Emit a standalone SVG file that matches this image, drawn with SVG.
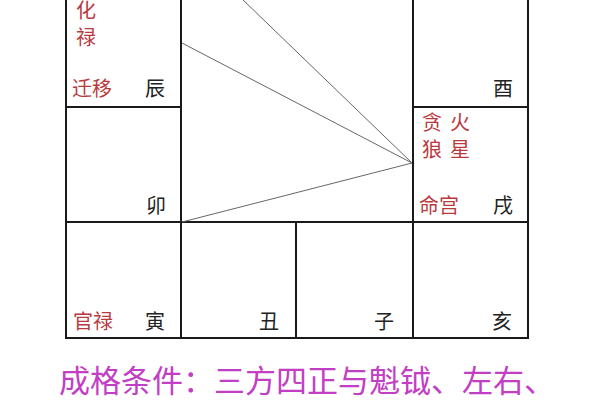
<svg xmlns="http://www.w3.org/2000/svg" width="600" height="400" viewBox="0 0 600 400">
<style>
.grid{stroke:#1a1a1a;stroke-width:2;fill:none}
.conn{stroke:#666;stroke-width:1;fill:none}
text{font-family:"Noto Sans CJK SC","Noto Sans",sans-serif;font-size:20px}
.blk{fill:#222}
.red{fill:#b83a3e}
.cap{fill:#c23ec4;font-size:31px}
</style>
<rect width="600" height="400" fill="#fff"/>
<g id="grid" class="grid">
<line x1="66" y1="0" x2="66" y2="338"/>
<line x1="181" y1="0" x2="181" y2="338"/>
<line x1="413" y1="0" x2="413" y2="338"/>
<line x1="528" y1="0" x2="528" y2="338"/>
<line x1="296" y1="222" x2="296" y2="338"/>
<line x1="65" y1="107" x2="182" y2="107"/>
<line x1="412" y1="107" x2="529" y2="107"/>
<line x1="65" y1="222" x2="529" y2="222"/>
<line x1="65" y1="338" x2="529" y2="338"/>
</g>
<g id="connectors" class="conn">
<line x1="412" y1="163" x2="182" y2="43"/>
<line x1="412" y1="163" x2="241" y2="-2"/>
<line x1="412" y1="163" x2="182" y2="222"/>
</g>
<g id="chen">
<text class="red" x="76" y="18">化</text>
<text class="red" x="76" y="45">禄</text>
<text class="red" x="72" y="96">迁移</text>
<text class="blk" x="145" y="96">辰</text>
</g>
<g id="mao"><text class="blk" x="146" y="213">卯</text></g>
<g id="you"><text class="blk" x="493" y="96">酉</text></g>
<g id="xu">
<text class="red" x="422" y="130">贪</text>
<text class="red" x="450" y="130">火</text>
<text class="red" x="422" y="157">狼</text>
<text class="red" x="450" y="157">星</text>
<text class="red" x="419" y="213">命宫</text>
<text class="blk" x="493" y="213">戌</text>
</g>
<g id="yin">
<text class="red" x="73" y="329">官禄</text>
<text class="blk" x="145" y="329">寅</text>
</g>
<g id="chou"><text class="blk" x="259" y="329">丑</text></g>
<g id="zi"><text class="blk" x="374" y="329">子</text></g>
<g id="hai"><text class="blk" x="492" y="329">亥</text></g>
<text class="cap" x="59" y="392">成格条件：三方四正与魁钺、左右、</text>
</svg>
